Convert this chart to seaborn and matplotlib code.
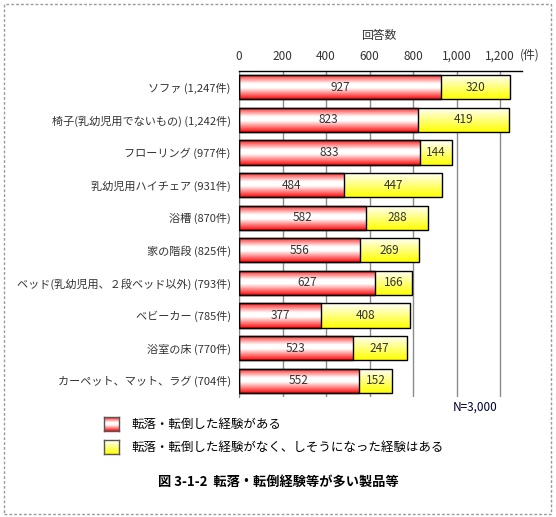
import numpy as np
import pandas as pd
import matplotlib
matplotlib.use("Agg")
import matplotlib.pyplot as plt
import seaborn as sns
from matplotlib.patches import Rectangle

# data
labels = ["ソファ (1,247件)",
          "椅子(乳幼児用でないもの) (1,242件)",
          "フローリング (977件)",
          "乳幼児用ハイチェア (931件)",
          "浴槽 (870件)",
          "家の階段 (825件)",
          "ベッド(乳幼児用、２段ベッド以外) (793件)",
          "ベビーカー (785件)",
          "浴室の床 (770件)",
          "カーペット、マット、ラグ (704件)"]
fell = [927, 823, 833, 484, 582, 556, 627, 377, 523, 552]
almost = [320, 419, 144, 447, 288, 269, 166, 408, 247, 152]
xticks = [0, 200, 400, 600, 800, 1000, 1200]
xticklabels = ["0", "200", "400", "600", "800", "1,000", "1,200"]
legend_labels = ["転落・転倒した経験がある",
                 "転落・転倒した経験がなく、しそうになった経験はある"]

sns.set_style("white")
plt.rcParams['font.family'] = ['Noto Sans CJK JP', 'DejaVu Sans']

df = pd.DataFrame({'label': labels, 'fell': fell, 'almost': almost})
df['total'] = df['fell'] + df['almost']

W, H = 556, 517
fig = plt.figure(figsize=(W/100, H/100), dpi=100)
ax = fig.add_axes([239/W, 1-397/H, (522-239)/W, (397-71)/H])

sns.barplot(data=df, x='total', y='label', color='#ffff00', saturation=1,
            edgecolor='black', linewidth=1, width=0.74, ax=ax)
sns.barplot(data=df, x='fell', y='label', color='#ff0000', saturation=1,
            edgecolor='black', linewidth=1, width=0.74, ax=ax)


def grad(stops, cols, n=64):
    t = np.linspace(0, 1, n)
    rgb = np.stack([np.interp(t, stops, [c[i] for c in cols]) for i in range(3)], axis=-1)
    return rgb[:, None, :]


red_g = grad([0, 0.38, 0.55, 1], [(1, 0.1, 0.1), (1, 1, 1), (1, 1, 1), (1, 0.05, 0.05)])
yel_g = grad([0, 0.25, 1], [(1, 1, 1), (1, 1, 0.75), (1, 1, 0)])

n = len(labels)
for i, p in enumerate(list(ax.patches)):
    x, y, w, h = p.get_x(), p.get_y(), p.get_width(), p.get_height()
    g = yel_g if i < n else red_g
    im = ax.imshow(g, extent=(x, x + w, y + h, y), aspect='auto', origin='upper',
                   zorder=2.5 if i < n else 2.8, interpolation='bilinear')
    im.set_clip_path(p)
    p.set_facecolor('none')
    p.set_zorder(4)

# value labels
for i in range(n):
    ax.text(fell[i] / 2, i, str(fell[i]), ha='center', va='center',
            fontsize=8.5, color='#333333', zorder=5)
    ax.text(fell[i] + almost[i] / 2, i, str(almost[i]), ha='center', va='center',
            fontsize=8.5, color='#333333', zorder=5)

ax.set_xlim(0, 1300)
ax.set_ylim(n - 0.5, -0.5)
ax.set_axisbelow(True)
ax.xaxis.grid(True, color='#8c8c8c', lw=1)
ax.yaxis.grid(False)
ax.xaxis.tick_top()
ax.set_xticks(xticks)
ax.set_xticklabels(xticklabels, fontsize=8.5, color='#333333')
ax.tick_params(axis='x', length=0, pad=6)
ax.tick_params(axis='y', which='major', length=0, pad=6, labelsize=8, labelcolor='#333333')
ax.set_yticks(np.arange(-0.5, n, 1), minor=True)
ax.tick_params(axis='y', which='minor', direction='in', length=3, color='#808080', width=0.8)
ax.set_xlabel("")
ax.set_ylabel("")
for s in ['right', 'bottom']:
    ax.spines[s].set_visible(False)
ax.spines['top'].set_color('black')
ax.spines['top'].set_linewidth(1)
ax.spines['left'].set_color('#808080')
ax.spines['left'].set_linewidth(0.8)

fig.text(379/W, 1-35/H, "回答数", ha='center', va='center', fontsize=8.5, color='#333333')
fig.text(530/W, 1-55/H, "(件)", ha='center', va='center', fontsize=8.5, color='#333333')
fig.text(453/W, 1-407/H, "N=3,000", ha='left', va='center', fontsize=8.5, color='#000033')

# legend squares with the same gradients
for k, (g, lab) in enumerate(zip([red_g, yel_g], legend_labels)):
    yc = 424 + k * 23
    lax = fig.add_axes([104/W, 1-(yc+7)/H, 15/W, 14/H])
    lax.imshow(g, aspect='auto', interpolation='bilinear')
    lax.set_xticks([])
    lax.set_yticks([])
    for s in lax.spines.values():
        s.set_color('#555555')
        s.set_linewidth(1)
    fig.text(132/W, 1-yc/H, lab, ha='left', va='center', fontsize=9, color='black')

fig.text(278/W, 1-482/H, "図 3-1-2  転落・転倒経験等が多い製品等", ha='center', va='center',
         fontsize=9.5, fontweight='bold', color='black')

fig.patches.append(Rectangle((4/W, 3/H), 547/W, 510/H, transform=fig.transFigure,
                             fill=False, ec='#9a9a9a', lw=1, ls=(0, (2, 1.5))))

fig.savefig("out.png", dpi=100)
